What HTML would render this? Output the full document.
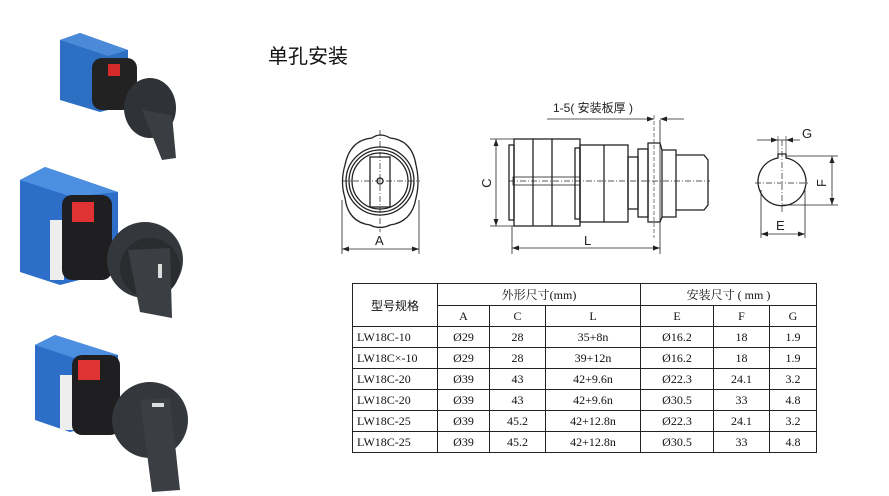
<!DOCTYPE html>
<html><head><meta charset="utf-8"><style>
body{margin:0;width:889px;height:496px;background:#fff;position:relative;overflow:hidden;font-family:"Liberation Serif","Noto Serif CJK SC",serif}
.t{position:absolute;font-family:"Liberation Sans","Noto Sans CJK SC",sans-serif}
table{position:absolute;left:352px;top:283px;border-collapse:collapse;font-size:12px;color:#111}
td{border:1px solid #222;text-align:center;padding:0;height:20px}
td.l{text-align:left;padding-left:4px}
</style></head><body>
<div class="t" style="left:268px;top:40px;font-size:20px;color:#111">单孔安装</div>
<svg width="889" height="496" style="position:absolute;left:0;top:0" font-family="Liberation Sans,Noto Sans CJK SC,sans-serif">
<!-- photos -->
<g>
<path d="M60 40 L80 33 L128 50 L128 105 L100 112 L60 100Z" fill="#2d6fc2"/>
<path d="M60 40 L80 33 L128 50 L108 56Z" fill="#4a8ad8"/>
<rect x="92" y="58" width="45" height="52" rx="10" fill="#222"/>
<rect x="108" y="64" width="12" height="12" fill="#d42a2a"/>
<ellipse cx="150" cy="108" rx="26" ry="30" fill="#2f3236"/>
<path d="M142 110 L172 115 L176 158 L162 160Z" fill="#3a3d41"/>
<path d="M20 180 L45 167 L118 192 L118 270 L60 285 L20 272Z" fill="#2d6ec8"/>
<path d="M20 180 L45 167 L118 192 L72 197Z" fill="#4c8ee0"/>
<rect x="50" y="220" width="14" height="60" fill="#eee"/>
<rect x="62" y="195" width="50" height="85" rx="10" fill="#1f1f22"/>
<rect x="72" y="202" width="22" height="20" fill="#e03434"/>
<circle cx="145" cy="260" r="38" fill="#34373b"/>
<circle cx="150" cy="268" r="30" fill="#2a2c30"/>
<path d="M128 250 L170 248 L172 318 L140 312Z" fill="#3b3e42"/>
<rect x="158" y="264" width="4" height="14" fill="#ddd"/>
<path d="M35 345 L55 335 L118 355 L118 420 L70 432 L35 420Z" fill="#2d6ec8"/>
<path d="M35 345 L55 335 L118 355 L80 360Z" fill="#4c8ee0"/>
<rect x="60" y="375" width="14" height="55" fill="#eee"/>
<rect x="72" y="355" width="48" height="80" rx="10" fill="#1f1f22"/>
<rect x="78" y="360" width="22" height="20" fill="#e03434"/>
<circle cx="150" cy="420" r="38" fill="#34373b"/>
<path d="M140 400 L170 398 L180 490 L152 492Z" fill="#3b3e42"/>
<rect x="152" y="403" width="12" height="4" fill="#ddd"/>
</g>
<!-- front view -->
<g fill="none" stroke="#222" stroke-width="1.3">
<path d="M345 165 Q350 140 372 138 Q380 132 390 138 Q412 140 416 165 Q420 182 416 198 Q412 222 390 225 Q380 230 370 225 Q348 222 345 198 Q340 182 345 165Z"/>
<circle cx="380" cy="181" r="34"/><circle cx="380" cy="181" r="31"/><circle cx="380" cy="181" r="28"/>
<rect x="370" y="157" width="20" height="50"/><circle cx="380" cy="181" r="3"/>
<line x1="342" y1="181" x2="420" y2="181" stroke-dasharray="6 2 1 2" stroke-width="0.7"/>
<line x1="380" y1="130" x2="380" y2="232" stroke-dasharray="6 2 1 2" stroke-width="0.7"/>
<line x1="342" y1="200" x2="342" y2="254" stroke-width="0.8"/><line x1="419" y1="200" x2="419" y2="254" stroke-width="0.8"/>
<line x1="342" y1="249" x2="419" y2="249" stroke-width="0.8"/>
<!-- side view -->
<rect x="514" y="139" width="66" height="87"/>
<line x1="533" y1="139" x2="533" y2="226"/><line x1="552" y1="139" x2="552" y2="226"/>
<rect x="509" y="145" width="5" height="75"/>
<rect x="580" y="145" width="48" height="77"/><line x1="604" y1="145" x2="604" y2="222"/>
<rect x="575" y="148" width="5" height="71"/>
<rect x="628" y="157" width="10" height="52"/>
<rect x="638" y="149" width="10" height="68"/>
<path d="M648 143 L660 143 L662 150 L662 217 L660 222 L648 222Z"/>
<path d="M662 150 L676 150 L676 217 L662 217"/>
<path d="M676 155 L704 155 L708 160 L708 205 L704 210 L676 210"/>
<line x1="509" y1="181" x2="710" y2="181" stroke-dasharray="6 2 1 2" stroke-width="0.7"/>
<rect x="513" y="177" width="67" height="8" stroke-width="0.8"/>
<line x1="490" y1="139" x2="514" y2="139" stroke-width="0.8"/><line x1="490" y1="226" x2="514" y2="226" stroke-width="0.8"/>
<line x1="496" y1="139" x2="496" y2="226" stroke-width="0.8"/>
<line x1="512" y1="226" x2="512" y2="254" stroke-width="0.8"/><line x1="660" y1="120" x2="660" y2="254" stroke-width="0.8"/>
<line x1="654" y1="115" x2="654" y2="238" stroke-width="0.6" stroke-dasharray="4 2"/>
<line x1="512" y1="248" x2="660" y2="248" stroke-width="0.8"/>
<line x1="547" y1="119" x2="654" y2="119" stroke-width="0.8"/><line x1="660" y1="119" x2="684" y2="119" stroke-width="0.8"/>
<!-- right view -->
<path d="M778 158 A24 24 0 1 0 786 158 L786 154 L778 154Z"/>
<line x1="755" y1="183" x2="810" y2="183" stroke-dasharray="6 2 1 2" stroke-width="0.7"/>
<line x1="782" y1="140" x2="782" y2="212" stroke-dasharray="6 2 1 2" stroke-width="0.7"/>
<line x1="757" y1="140" x2="800" y2="140" stroke-width="0.8"/>
<line x1="778" y1="136" x2="778" y2="158" stroke-width="0.6"/><line x1="786" y1="136" x2="786" y2="158" stroke-width="0.6"/>
<line x1="786" y1="156" x2="838" y2="156" stroke-width="0.8"/><line x1="782" y1="205" x2="838" y2="205" stroke-width="0.8"/>
<line x1="832" y1="156" x2="832" y2="205" stroke-width="0.8"/>
<line x1="761" y1="190" x2="761" y2="238" stroke-width="0.8"/><line x1="805" y1="190" x2="805" y2="238" stroke-width="0.8"/>
<line x1="761" y1="234" x2="805" y2="234" stroke-width="0.8"/>
</g>
<g fill="#222">
<path d="M342 249 l7 -2.5 v5Z"/><path d="M419 249 l-7 -2.5 v5Z"/>
<path d="M496 139 l-2.5 7 h5Z"/><path d="M496 226 l-2.5 -7 h5Z"/>
<path d="M512 248 l7 -2.5 v5Z"/><path d="M660 248 l-7 -2.5 v5Z"/>
<path d="M654 119 l-7 -2.5 v5Z"/><path d="M660 119 l7 -2.5 v5Z"/>
<path d="M778 140 l-7 -2.5 v5Z"/><path d="M786 140 l7 -2.5 v5Z"/>
<path d="M832 156 l-2.5 7 h5Z"/><path d="M832 205 l-2.5 -7 h5Z"/>
<path d="M761 234 l7 -2.5 v5Z"/><path d="M805 234 l-7 -2.5 v5Z"/>
</g>
<g font-size="13" fill="#222">
<text x="375" y="245">A</text><text x="584" y="245">L</text>
<text x="486" y="188" transform="rotate(-90 486 183)" text-anchor="middle">C</text>
<text x="802" y="138">G</text><text x="776" y="230">E</text>
<text x="826" y="183" transform="rotate(-90 826 183)" text-anchor="middle">F</text>
<text x="553" y="112" font-size="12">1-5( 安装板厚 )</text>
</g>
</svg>
<table>
<colgroup><col style="width:85px"><col style="width:52px"><col style="width:56px"><col style="width:95px"><col style="width:73px"><col style="width:56px"><col style="width:47px"></colgroup>
<tr><td rowspan="2" style="font-family:'Liberation Sans','Noto Sans CJK SC',sans-serif">型号规格</td><td colspan="3" style="height:21px">外形尺寸(mm)</td><td colspan="3">安装尺寸 ( mm )</td></tr>
<tr><td>A</td><td>C</td><td>L</td><td>E</td><td>F</td><td>G</td></tr>
<tr><td class="l">LW18C-10</td><td>Ø29</td><td>28</td><td>35+8n</td><td>Ø16.2</td><td>18</td><td>1.9</td></tr>
<tr><td class="l">LW18C×-10</td><td>Ø29</td><td>28</td><td>39+12n</td><td>Ø16.2</td><td>18</td><td>1.9</td></tr>
<tr><td class="l">LW18C-20</td><td>Ø39</td><td>43</td><td>42+9.6n</td><td>Ø22.3</td><td>24.1</td><td>3.2</td></tr>
<tr><td class="l">LW18C-20</td><td>Ø39</td><td>43</td><td>42+9.6n</td><td>Ø30.5</td><td>33</td><td>4.8</td></tr>
<tr><td class="l">LW18C-25</td><td>Ø39</td><td>45.2</td><td>42+12.8n</td><td>Ø22.3</td><td>24.1</td><td>3.2</td></tr>
<tr><td class="l">LW18C-25</td><td>Ø39</td><td>45.2</td><td>42+12.8n</td><td>Ø30.5</td><td>33</td><td>4.8</td></tr>
</table>
</body></html>
